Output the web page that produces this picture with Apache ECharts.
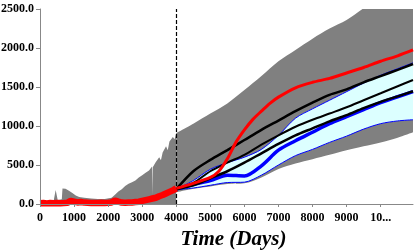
<!DOCTYPE html>
<html>
<head>
<meta charset="utf-8">
<script src="https://cdn.jsdelivr.net/npm/echarts@6/dist/echarts.min.js"></script>
<style>html,body{margin:0;padding:0;background:#fff}#c{width:415px;height:251px}</style>
</head>
<body>
<div id="c"></div>
<script>
// ---- data ----
var xTickLabels = ['0','1000','2000','3000','4000','5000','6000','7000','8000','9000','10...'];
var yTickLabels = ['0.0','500.0','1000.0','1500.0','2000.0','2500.0'];

var histDays      = [0,200,400,440,460,500,520,640,660,750,850,950,1050,1150,1300,1500,1700,1900,2100,2200,2300,2400,2500,2600,2700,2800,2900,2950,3000,3100,3150,3200,3290,3300,3310,3350,3400,3500,3550,3600,3700,3750,3800,3900,3950,4000];
var histGrayUpper = [30,30,40,60,180,180,50,60,200,195,170,140,110,90,80,70,65,65,80,120,160,190,230,260,280,300,340,320,370,400,380,430,480,120,470,450,540,600,560,660,740,690,800,860,830,910];

var redHistDays = [0,100,200,300,400,500,600,700,800,900,1000,1100,1200,1300,1400,1500,1600,1700,1800,1900,2000,2100,2200,2300,2400,2500,2600,2700,2800,2900,3000,3100,3200,3300,3400,3500,3600,3700,3800,3900,4000];
var redHistVals = [10,12,8,12,10,14,10,12,15,40,30,20,25,18,15,12,14,12,15,14,16,20,45,30,18,16,18,20,25,30,40,50,60,70,80,100,115,135,155,175,200];

var fcDays     = [4000,4500,5000,5500,6000,6500,7000,7500,8000,8500,9000,9500,10000,10500,10950];
var grayUpper  = [910,1030,1160,1290,1460,1640,1830,1975,2120,2250,2360,2510,2650,2800,2950];
var grayLower  = [150,195,225,255,265,340,450,520,575,630,690,740,790,850,920];
var cyanLower  = [185,205,240,275,280,370,500,620,700,790,870,960,1030,1065,1080];
var cyanUpper  = [190,300,445,530,600,700,880,1100,1220,1330,1440,1550,1650,1735,1810];
var blueMean   = [190,250,300,370,360,490,690,810,920,1030,1120,1210,1300,1375,1440];
var blackTop   = [190,420,565,690,820,950,1070,1190,1300,1400,1470,1560,1640,1720,1795];
var blackMid   = [190,270,420,530,630,760,880,990,1080,1160,1240,1330,1420,1510,1590];
var blackLow   = [190,240,330,420,530,650,770,880,970,1060,1140,1230,1310,1380,1445];

var redFcDays = [4000,4500,5000,5250,5500,5750,6000,6250,6500,6750,7000,7500,8000,8500,9000,9500,10000,10500,10950];
var redFcVals = [200,265,340,420,580,790,950,1085,1190,1290,1370,1490,1560,1610,1680,1750,1830,1900,1975];

var historyEnd = 4000;

// ---- helpers ----
function pairs(xs, ys){ return xs.map(function(x,i){ return [x, ys[i]]; }); }

var chart = echarts.init(document.getElementById('c'), null, {renderer:'canvas'});
var labelFont = {fontFamily:'Liberation Serif', fontWeight:'bold', fontSize:12, color:'#000'};
var SM = 0.3;

function line(name, xs, ys, color, width, z){
  return {type:'line', name:name, data:pairs(xs,ys), showSymbol:false, symbol:'none',
    smooth: SM, lineStyle:{color:color, width:width}, z:z, silent:true};
}
function fill(name, xs, ys, color, z){
  return {type:'line', name:name, data:pairs(xs,ys), symbol:'none', smooth:SM,
    lineStyle:{width:0, opacity:0}, areaStyle:{color:color, opacity:1}, z:z, silent:true};
}

var option = {
  animation:false,
  grid:{left:40, right:2, top:9, bottom:47, containLabel:false, outerBoundsMode:'none'},
  xAxis:{
    type:'value', min:0, max:10950, interval:1000, z:10,
    name:'Time (Days)', nameLocation:'middle', nameGap:23,
    nameTextStyle:{fontFamily:'Liberation Serif', fontWeight:'bold', fontStyle:'italic', fontSize:21, color:'#000', padding:[0,0,0,14]},
    axisLine:{lineStyle:{color:'#888', width:1}},
    axisTick:{show:true, length:3, lineStyle:{color:'#888'}},
    splitLine:{show:false},
    axisLabel:Object.assign({margin:8, showMaxLabel:false, formatter:function(v){
      var i = Math.round(v/1000); return (v % 1000 === 0 && xTickLabels[i] !== undefined) ? xTickLabels[i] : '';
    }}, labelFont)
  },
  yAxis:{
    type:'value', min:0, max:2500, interval:500, z:10,
    axisLine:{show:true, lineStyle:{color:'#888', width:1}},
    axisTick:{show:true, length:4, lineStyle:{color:'#888'}},
    splitLine:{show:false},
    axisLabel:Object.assign({margin:6, formatter:function(v){ return yTickLabels[Math.round(v/500)]; }}, labelFont)
  },
  series:[
    {type:'line', name:'histGray', data:pairs(histDays, histGrayUpper), symbol:'none', lineStyle:{width:0},
     areaStyle:{color:'#808080', opacity:1}, z:1, silent:true},
    // forecast envelope: painted from the axis upwards in layers
    fill('grayUpperFill', fcDays, grayUpper, '#808080', 1),
    fill('cyanUpperFill', fcDays, cyanUpper, '#dcffff', 1),
    fill('cyanLowerFill', fcDays, cyanLower, '#808080', 1),
    fill('grayLowerFill', fcDays, grayLower, '#ffffff', 1),
    line('cyanLowerLine', fcDays, cyanLower, '#0000ff', 1, 3),
    line('cyanUpperLine', fcDays, cyanUpper, '#0000ff', 1, 3),
    line('blueMean', fcDays, blueMean, '#0000ff', 3.5, 3),
    line('blackLow', fcDays, blackLow, '#000', 2.5, 4),
    line('blackMid', fcDays, blackMid, '#000', 2, 4),
    line('blackTop', fcDays, blackTop, '#000', 2.5, 4),
    {type:'line', name:'redHist', data:pairs(redHistDays, redHistVals), symbol:'none',
     lineStyle:{color:'#ff0000', width:6.5}, z:5, silent:true,
     markLine:{silent:true, symbol:['none','none'], label:{show:false},
       lineStyle:{color:'#000', type:[4,2], width:1.2}, data:[{xAxis:historyEnd}]}},
    line('redFc', redFcDays, redFcVals, '#ff0000', 3, 5)
  ]
};
chart.setOption(option);
</script>
</body>
</html>
